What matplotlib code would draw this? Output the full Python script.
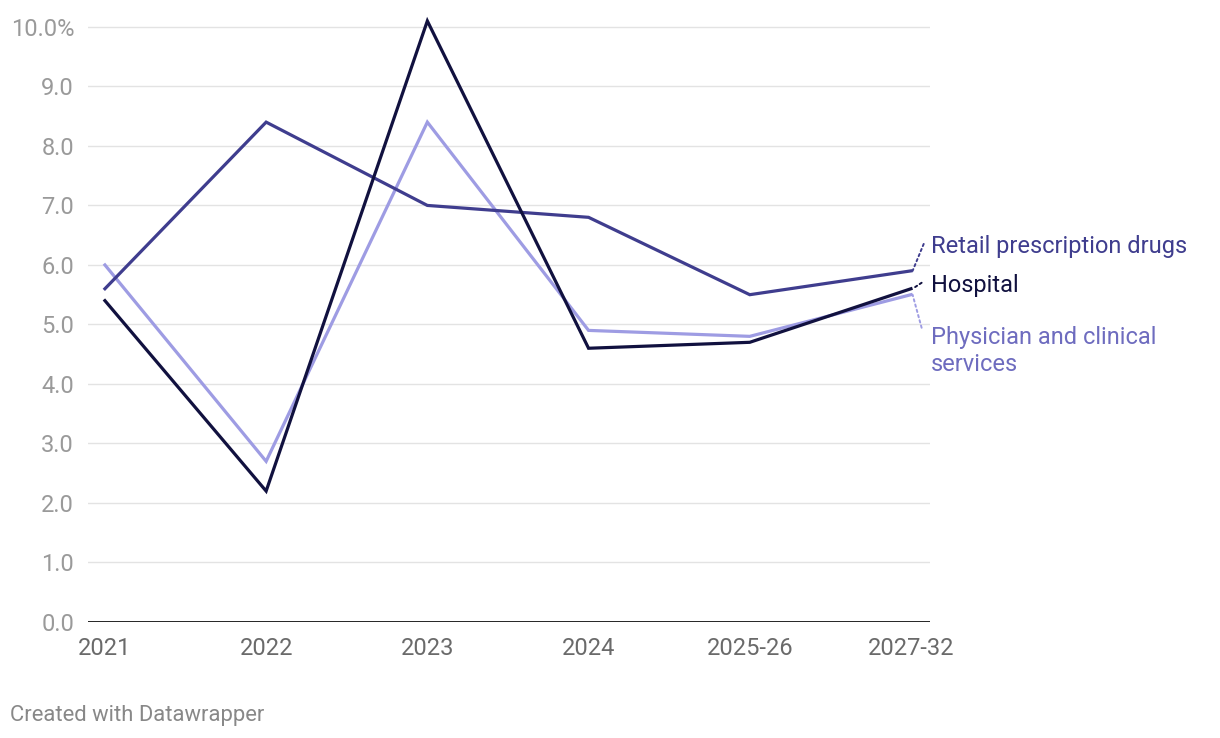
import matplotlib
matplotlib.use("Agg")
import matplotlib.pyplot as plt

plt.rcParams['font.family'] = ['Roboto', 'DejaVu Sans']

years = ["2021", "2022", "2023", "2024", "2025-26", "2027-32"]
retail = [5.6, 8.4, 7.0, 6.8, 5.5, 5.9]
hospital = [5.4, 2.2, 10.1, 4.6, 4.7, 5.6]
physician = [6.0, 2.7, 8.4, 4.9, 4.8, 5.5]
yticks = [0, 1, 2, 3, 4, 5, 6, 7, 8, 9, 10]
ylabels = ["0.0", "1.0", "2.0", "3.0", "4.0", "5.0", "6.0", "7.0", "8.0", "9.0", "10.0%"]

c_retail = "#3f3d8e"
c_hosp = "#11113f"
c_phys = "#9e9ce3"
c_phys_txt = "#6e6cbf"

fig = plt.figure(figsize=(12.2, 7.38), dpi=100)
ax = fig.add_axes([88 / 1220, 1 - 622 / 738, (930 - 88) / 1220, (622 - 15) / 738])

x = list(range(len(years)))
ax.plot(x, physician, color=c_phys, lw=2.3, solid_joinstyle="miter", zorder=3)
ax.plot(x, retail, color=c_retail, lw=2.3, solid_joinstyle="miter", zorder=4)
ax.plot(x, hospital, color=c_hosp, lw=2.3, solid_joinstyle="miter", zorder=5)

ax.set_xlim(-0.105, 5.118)
ax.set_ylim(0, 10.2)
ax.set_yticks(yticks)
ax.set_yticklabels(ylabels)
ax.set_xticks(x)
ax.set_xticklabels(years)
for s in ax.spines.values():
    s.set_visible(False)
ax.grid(axis="y", color="#e3e3e3", lw=1)
ax.set_axisbelow(True)
ax.axhline(0, color="#111111", lw=2, zorder=2)
ax.tick_params(axis="both", length=0, labelsize=17)
ax.tick_params(axis="y", pad=10, labelcolor="#9a9a9a")
ax.tick_params(axis="x", pad=11, labelcolor="#6a6a6a")

# labels at the right end, with short dotted connectors
labels = [
    ("Retail prescription drugs", retail[-1], c_retail, c_retail, (8, 19.4), (14.4, 17.3), "center"),
    ("Hospital", hospital[-1], c_hosp, c_hosp, (6.5, 4.3), (14.4, 2.2), "center"),
    ("Physician and clinical\nservices", physician[-1], c_phys, c_phys_txt, (6.5, -23.8), (14.4, -22.5), "top"),
]
for txt, val, lc, tc, conn, off, va in labels:
    ax.annotate("", xy=(5.01, val), xytext=conn, textcoords="offset points",
                arrowprops=dict(arrowstyle="-", ls=(0, (1.2, 1.6)), color=lc, lw=1.4,
                                shrinkA=0, shrinkB=0))
    ax.annotate(txt, xy=(5.0, val), xytext=off, textcoords="offset points",
                va=va, ha="left", fontsize=17, color=tc, linespacing=1.2)

fig.text(10 / 1220, 1 - 715 / 738, "Created with Datawrapper", fontsize=15.8,
         color="#888888", va="center", ha="left")

fig.savefig("out.png", dpi=100)
